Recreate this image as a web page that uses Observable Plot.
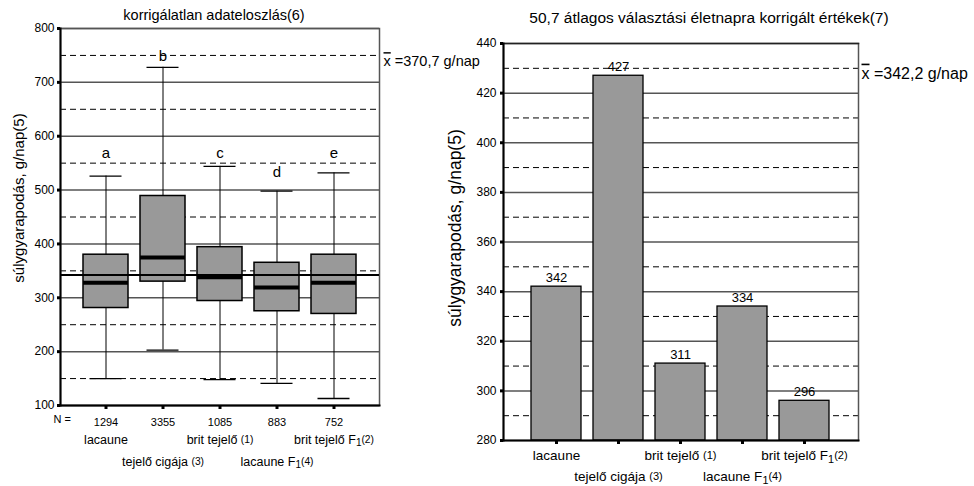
<!DOCTYPE html>
<html>
<head>
<meta charset="utf-8">
<script src="https://cdn.jsdelivr.net/npm/d3@7"></script>
<script src="https://cdn.jsdelivr.net/npm/@observablehq/plot@0.6"></script>
<style>
  body { margin: 0; background: #fff; }
  #chart { position: relative; width: 974px; height: 486px; overflow: hidden; }
  #chart > div { position: absolute; top: 0; }
  #left { left: 0; }
  #right { left: 480px; }
</style>
</head>
<body>
<div id="chart"><div id="left"></div><div id="right"></div></div>
<script>
// Fajtacsoportok (a címkék két sorban váltakoznak)
const groups = ["lacaune", "tejelő cigája (3)", "brit tejelő (1)", "lacaune F1(4)", "brit tejelő F1(2)"];
const labelRow = [0, 1, 0, 1, 0];
const sampleSizes = [1294, 3355, 1085, 883, 752];

// Nyers eloszlás: whisker-végek, kvartilisek, medián (g/nap)
const whiskerLow = [150, 203, 148, 141, 113];
const quartile1 = [281, 330, 294, 275, 270];
const medians = [328, 375, 338, 319, 328];
const quartile3 = [380, 489, 394, 365, 380];
const whiskerHigh = [526, 728, 544, 498, 532];
const groupLetters = ["a", "b", "c", "d", "e"];
const letterLevels = [569, 748, 569, 533, 569];

// Átlagok
const rawMeanText = "370,7";
const correctedMean = 342.2;
const correctedMeanText = "342,2";

// Korrigált átlagok csoportonként (g/nap)
const correctedValues = [342, 427, 311, 334, 296];

// Tengelyek, rácsvonalak
const rawDomain = [100, 800];
const rawTicks = [100, 200, 300, 400, 500, 600, 700, 800];
const rawHalfTicks = [150, 250, 350, 450, 550, 650, 750];
const corrDomain = [280, 440];
const corrTicks = [280, 300, 320, 340, 360, 380, 400, 420, 440];
const corrGrid = [300, 320, 340, 360, 380, 400, 420];
const corrHalfTicks = [290, 310, 330, 350, 370, 390, 410, 430];

const leftTitle = "korrigálatlan adateloszlás(6)";
const rightTitle = "50,7 átlagos választási életnapra korrigált értékek(7)";
const yLabel = "súlygyarapodás, g/nap(5)";

const FONT = '"Liberation Sans", Arial, Helvetica, sans-serif';
const GRID = "#555";
const BOX = "#999";

const boxes = groups.map((group, i) => ({
  group, row: labelRow[i], n: sampleSizes[i],
  low: whiskerLow[i], q1: quartile1[i], median: medians[i], q3: quartile3[i], high: whiskerHigh[i],
  letter: groupLetters[i], letterY: letterLevels[i]
}));
const bars = groups.map((group, i) => ({group, row: labelRow[i], value: correctedValues[i]}));
const nByGroup = new Map(boxes.map(d => [d.group, String(d.n)]));

const baseStyle = {fontFamily: FONT, fontSize: "12px", background: "transparent", overflow: "visible", color: "#000"};
const mid = {textAnchor: "middle", lineAnchor: "middle"};

// Bal panel: dobozábra
const left = Plot.plot({
  width: 480, height: 486,
  marginLeft: 60, marginRight: 101, marginTop: 28, marginBottom: 81,
  style: baseStyle,
  x: {domain: groups, paddingInner: 0.21, paddingOuter: 0.4, axis: null},
  y: {domain: rawDomain, axis: null},
  marks: [
    Plot.ruleY(rawTicks, {stroke: GRID, strokeWidth: 1.5}),
    Plot.ruleY(rawHalfTicks, {stroke: "#000", strokeWidth: 1, strokeDasharray: "6,4"}),
    Plot.frame({stroke: GRID, strokeWidth: 1.5}),
    Plot.ruleX(boxes, {x: "group", y1: "low", y2: "high", stroke: "#000", strokeWidth: 1}),
    Plot.tickY(boxes, {x: "group", y: "low", insetLeft: 6.5, insetRight: 6.5, stroke: "#000", strokeWidth: 1.3}),
    Plot.tickY(boxes, {x: "group", y: "high", insetLeft: 6.5, insetRight: 6.5, stroke: "#000", strokeWidth: 1.3}),
    Plot.barY(boxes, {x: "group", y1: "q1", y2: "q3", fill: BOX, stroke: "#000", strokeWidth: 1.5}),
    Plot.tickY(boxes, {x: "group", y: "median", stroke: "#000", strokeWidth: 4}),
    Plot.ruleY([correctedMean], {stroke: "#000", strokeWidth: 2}),
    Plot.frame({anchor: "left", stroke: "#000", strokeWidth: 2}),
    Plot.frame({anchor: "bottom", stroke: "#000", strokeWidth: 2}),
    Plot.axisY({ticks: rawTicks, tickSize: 3, tickPadding: 3, strokeWidth: 3, fontSize: 12, label: null}),
    Plot.axisX({tickSize: 4, tickPadding: 9, strokeWidth: 3, fontSize: 11, label: null, tickFormat: d => nByGroup.get(d)}),
    Plot.text(["N ="], {frameAnchor: "bottom-left", dx: -7, dy: 14, textAnchor: "start", lineAnchor: "middle", fontSize: 11}),
    Plot.text(boxes.filter(d => d.row === 0), {x: "group", text: "group", frameAnchor: "bottom", dy: 34, ...mid, fontSize: 12.5}),
    Plot.text(boxes.filter(d => d.row === 1), {x: "group", text: "group", frameAnchor: "bottom", dy: 56, ...mid, fontSize: 12.5}),
    Plot.text(boxes, {x: "group", y: "letterY", text: "letter", fontSize: 15}),
    Plot.text([leftTitle], {frameAnchor: "top", dx: -6, dy: -13, ...mid, fontSize: 14.5}),
    Plot.text([yLabel], {frameAnchor: "left", rotate: -90, dx: -41, dy: -19, ...mid, fontSize: 15}),
    Plot.text([`x\u0304 =${rawMeanText} g/nap`], {frameAnchor: "top-right", dx: 4, dy: 33, textAnchor: "start", lineAnchor: "middle", fontSize: 14.5})
  ]
});

// Jobb panel: korrigált átlagok oszlopdiagramja
const right = Plot.plot({
  width: 494, height: 486,
  marginLeft: 23, marginRight: 116, marginTop: 43, marginBottom: 46,
  style: baseStyle,
  x: {domain: groups, paddingInner: 0.19, paddingOuter: 0.446, axis: null},
  y: {domain: corrDomain, axis: null},
  marks: [
    Plot.ruleY(corrGrid, {stroke: GRID, strokeWidth: 1.5}),
    Plot.ruleY(corrHalfTicks, {stroke: "#000", strokeWidth: 1, strokeDasharray: "6,4"}),
    Plot.frame({stroke: GRID, strokeWidth: 1.5}),
    Plot.frame({anchor: "top", stroke: "#222", strokeWidth: 1.5}),
    Plot.barY(bars, {x: "group", y1: corrDomain[0], y2: "value", fill: BOX, stroke: "#000", strokeWidth: 1.3}),
    Plot.text(bars, {x: "group", y: "value", text: "value", dy: -9, fontSize: 13}),
    Plot.frame({anchor: "left", stroke: "#000", strokeWidth: 2}),
    Plot.frame({anchor: "bottom", stroke: "#000", strokeWidth: 2}),
    Plot.axisY({ticks: corrTicks, tickSize: 3, tickPadding: 4, strokeWidth: 3, fontSize: 12, label: null}),
    Plot.axisX({tickSize: 4, strokeWidth: 3, label: null, tickFormat: () => ""}),
    Plot.text(bars.filter(d => d.row === 0), {x: "group", text: "group", frameAnchor: "bottom", dy: 15, ...mid, fontSize: 13.5}),
    Plot.text(bars.filter(d => d.row === 1), {x: "group", text: "group", frameAnchor: "bottom", dy: 36, ...mid, fontSize: 13.5}),
    Plot.text([rightTitle], {frameAnchor: "top", dx: 28, dy: -25, ...mid, fontSize: 15.5}),
    Plot.text([yLabel], {frameAnchor: "left", rotate: -90, dx: -48, dy: -14, ...mid, fontSize: 17.5}),
    Plot.text([`x\u0304 =${correctedMeanText} g/nap`], {frameAnchor: "top-right", dx: 3, dy: 30, textAnchor: "start", lineAnchor: "middle", fontSize: 16})
  ]
});

// Alsó indexek (F1) és kisebb betűs zárójeles megjegyzések, felülvonásos x̄
const groupSet = new Set(groups);
function enrichText(svg) {
  d3.select(svg).selectAll("text").each(function () {
    const s = this.textContent;
    const el = d3.select(this);
    if (s.startsWith("x\u0304")) {
      el.text(null);
      el.append("tspan").style("text-decoration", "overline").text("x");
      el.append("tspan").text(s.slice(2));
      return;
    }
    if (!groupSet.has(s)) return;
    const m = s.match(/^(.*?)(F1)?(\(\d\))?$/);
    const fs = parseFloat(this.getAttribute("font-size")) || parseFloat(this.parentNode.getAttribute("font-size")) || 12;
    el.text(null);
    el.append("tspan").text(m[2] ? m[1] + "F" : m[1]);
    let shift = 0;
    if (m[2]) {
      el.append("tspan").attr("font-size", fs * 0.8).attr("dy", fs * 0.22).text("1");
      shift = fs * 0.22;
    }
    if (m[3]) {
      el.append("tspan").attr("font-size", fs * 0.82).attr("dy", -shift - fs * 0.08).text(m[3]);
    }
  });
}

enrichText(left);
enrichText(right);
document.getElementById("left").append(left);
document.getElementById("right").append(right);
</script>
</body>
</html>
